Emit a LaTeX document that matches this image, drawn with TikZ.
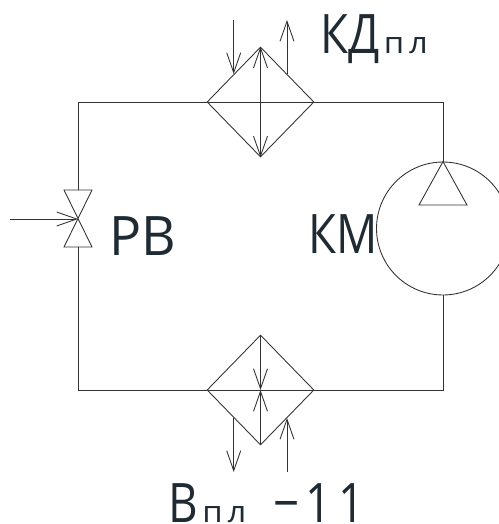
\documentclass[tikz,border=0pt]{standalone}
\usepackage{fontspec}
\setmainfont[FakeStretch=0.84]{Open Sans}
\newfontfamily\widefont[FakeStretch=0.98]{Open Sans}
\newfontfamily\subfont[FakeStretch=1.1]{Open Sans}
\usetikzlibrary{arrows.meta}
\usetikzlibrary{shapes.geometric}
\definecolor{labelcol}{HTML}{1F2A33}
\newcommand{\bigtxt}{\fontsize{31}{31}\selectfont}
\newcommand{\smalltxt}{{\subfont\fontsize{17}{17}\selectfont п\hspace{0.16em}л}}
\tikzset{
	pipe/.style={draw=black!80,line width=0.5pt},
	flow/.style={pipe,-{Straight Barb[length=0.4cm,width=0.28cm,line width=0.5pt]}},
	exchanger/.style={pipe,shape=diamond,inner sep=0pt,minimum width=2.14cm,minimum height=2.2cm},
	pump/.style={pipe,shape=circle,inner sep=0pt,minimum size=2.66cm},
	txt/.style={text=labelcol,inner sep=0pt,anchor=base west,font=\bigtxt}
}
\begin{document}
\begin{tikzpicture}[x=0.02cm,y=-0.02cm]
	\useasboundingbox (0,0) rectangle (499,524);
	% heat exchangers and compressor
	\node[exchanger] (kd) at (260.5,102) {};
	\node[exchanger] (vp) at (260.5,390) {};
	\node[pump] (km) at (443,228.5) {};
	% expansion valve
	\coordinate (rv) at (78,219);
	\coordinate (rvtop) at (78,190);
	\coordinate (rvbot) at (78,247);
	\draw[pipe] (64,190) -- (92,190) -- (64,247) -- (92,247) -- cycle;
	% pipework
	\coordinate (lt) at (78,102);
	\coordinate (rt) at (443,102);
	\coordinate (lb) at (78,390);
	\coordinate (rb) at (443,390);
	\draw[pipe] (rvtop) -- (lt) -- (kd.west);
	\draw[pipe] (kd.east) -- (rt) -- (km.north);
	\draw[pipe] (km.south) -- (rb) -- (vp.east);
	\draw[pipe] (vp.west) -- (lb) -- (rvbot);
	\draw[pipe] (kd.west) -- (kd.east);
	\draw[pipe] (vp.west) -- (vp.east);
	% compressor triangle
	\draw[pipe] (km.north) -- (419,205) -- (467,205) -- cycle;
	% arrows inside the exchangers
	\draw[flow,{Straight Barb[length=0.4cm,width=0.28cm,line width=0.5pt]}-{Straight Barb[length=0.4cm,width=0.28cm,line width=0.5pt]}] (kd.north) -- (kd.south);
	\draw[flow] (vp.north) -- (vp.center);
	\draw[flow] (vp.south) -- (vp.center);
	% outer arrows
	\coordinate (kdin) at (233.7,20);
	\coordinate (kdinend) at (233.7,74);
	\coordinate (kdout) at (287,74);
	\coordinate (kdoutend) at (287,20);
	\coordinate (vpout) at (233.7,418);
	\coordinate (vpoutend) at (233.7,472);
	\coordinate (vpin) at (287,472);
	\coordinate (vpinend) at (287,418);
	\coordinate (rvin) at (10,219);
	\draw[flow] (kdin) -- (kdinend);
	\draw[flow] (kdout) -- (kdoutend);
	\draw[flow] (vpout) -- (vpoutend);
	\draw[flow] (vpin) -- (vpinend);
	\draw[flow] (rvin) -- (rv);
	% labels
	\node[txt] (kdlabel) at (320,53) {КД\hspace{0.08em}\smalltxt};
	\node[txt] (rvlabel) at (109,255) {\widefont РВ};
	\node[txt] (kmlabel) at (308,253) {КМ};
	\node[txt] (vplabel) at (168,522) {В\hspace{0.08em}\smalltxt\hspace{0.5em}−\hspace{0.1em}1\hspace{0.13em}1};
\end{tikzpicture}
\end{document}
